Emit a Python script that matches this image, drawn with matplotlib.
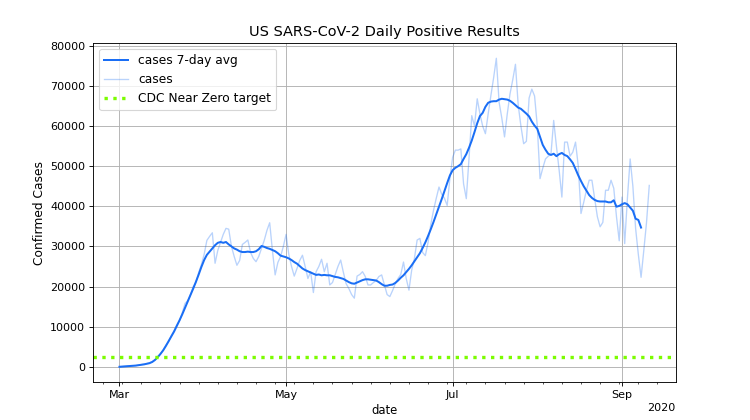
import matplotlib
matplotlib.use("Agg")
import matplotlib.dates as mdates
import matplotlib.pyplot as plt
import numpy as np
import pandas as pd

# daily values, starting 2020-03-01
START = "2020-03-01"

cases_avg = [
    0, 50, 100, 150, 200, 250, 300, 400, 500, 600, 750,
    900, 1200, 1700, 2400, 3200, 4100, 5200, 6400, 7600, 8800,
    10200, 11600, 13100, 14700, 16300, 17900, 19500, 21200, 23000, 24900,
    26600, 27900, 28700, 29500, 30300, 30900, 31100, 30900, 31100, 30500,
    30000, 29500, 29200, 28800, 28600, 28600, 28700, 28600, 28600, 28800,
    29300, 30100, 29900, 29600, 29400, 29100, 28800, 28300, 27700, 27500,
    27300, 27000, 26600, 26100, 25700, 25100, 24500, 24100, 23800, 23500,
    23200, 22900, 23000, 22800, 22900, 22800, 22800, 22600, 22400, 22300,
    22100, 21900, 21500, 21100, 20800, 20700, 21000, 21300, 21600, 21800,
    21800, 21700, 21600, 21500, 21100, 20600, 20200, 20200, 20400, 20500,
    20900, 21500, 22200, 22800, 23600, 24400, 25300, 26300, 27300, 28300,
    29600, 31000, 32600, 34300, 36100, 38000, 39900, 41800, 43800, 45800,
    47700, 49000, 49600, 50000, 50500, 51800, 53000, 54600, 56400, 58500,
    60700, 62500, 63300, 64800, 65800, 66100, 66200, 66200, 66600, 66800,
    66700, 66600, 66300, 65800, 65200, 64600, 64300, 63700, 63100, 62400,
    61100, 60100, 59300, 57300, 55300, 54100, 53100, 52800, 53100, 52500,
    53000, 53300, 52800, 52500, 51700, 50800, 49300, 47700, 46300, 45000,
    43900, 42800, 42100, 41600, 41300, 41200, 41200, 41200, 41000, 41000,
    41500, 39900, 40100, 40500, 40800, 40500, 39700, 38900, 36900, 36600, 34700,
]

cases = [
    0, 30, 80, 130, 200, 250, 300, 420, 550, 650, 800,
    1000, 1300, 1700, 2500, 3200, 4200, 5400, 6200, 7800, 9000,
    10500, 11500, 13500, 15800, 16500, 18000, 20000, 21000, 23500, 25500,
    28000, 31500, 32500, 33400, 25800, 29000, 31000, 33000, 34500, 34300,
    30000, 27500, 25300, 26500, 30500, 31000, 31600, 28500, 27000, 26200,
    27500, 29500, 31500, 34000, 35900, 29000, 22900, 26000, 27500, 30000,
    33000, 28000, 25000, 22600, 24500, 26500, 27800, 25000, 22000, 23700,
    18500, 23700, 25000, 26800, 23700, 25800, 20400, 21000, 23000, 25000,
    26600, 23500, 20700, 19500, 18000, 17100, 22600, 23000, 23700, 22500,
    20400, 20400, 21000, 21500, 22500, 22900, 20500, 18000, 17500, 19000,
    20700, 22000, 23000, 26100, 22000, 19100, 24100, 27000, 31600, 32000,
    28500, 27700, 31000, 35500, 39000, 42000, 44800, 43000, 42000, 40200,
    47000, 52200, 54000, 54000, 54300, 45600, 41900, 52000, 62600, 60000,
    66800, 63000, 60000, 58100, 63000, 67600, 72000, 76900, 66000, 62000,
    57300, 63000, 68000, 71500, 75400, 65300, 60000, 55600, 56200, 67000,
    69200, 67500, 60000, 46900, 49500, 51800, 52500, 53000, 61400, 55000,
    49000, 42300, 56000, 56000, 52500, 53500, 56000, 50000, 38200, 41000,
    44000, 46500, 46500, 42000, 37400, 34900, 36000, 44000, 44000, 46500,
    44500, 37400, 31400, 42300, 30700, 42000, 51800, 45000, 34500, 28000,
    22300, 29000, 36000, 45200,
]

CDC_TARGET = 2500

dates_raw = pd.date_range(START, periods=len(cases), freq="D")
dates_avg = pd.date_range(START, periods=len(cases_avg), freq="D")

BLUE = "#1a6ef5"

# 80 dpi so the text comes out at the reference's size
fig, ax = plt.subplots(figsize=(9.375, 5.25), dpi=80)
fig.subplots_adjust(left=0.124, right=0.901, bottom=0.09, top=0.898)

ax.plot(dates_avg, cases_avg, color=BLUE, lw=1.8, label="cases 7-day avg")
ax.plot(dates_raw, cases, color=BLUE, lw=1.2, alpha=0.3, label="cases")
ax.axhline(CDC_TARGET, color="#7cfc00", ls=":", lw=3, label="CDC Near Zero target")

locator = mdates.MonthLocator(bymonth=[3, 5, 7, 9])
ax.xaxis.set_major_locator(locator)
ax.xaxis.set_major_formatter(mdates.ConciseDateFormatter(locator))
ax.xaxis.set_minor_locator(mdates.WeekdayLocator(byweekday=mdates.MO))

ax.set_yticks(np.arange(0, 80001, 10000))
ax.grid(True)
ax.set_title("US SARS-CoV-2 Daily Positive Results", fontsize=13)
ax.set_xlabel("date", fontsize=10.5)
ax.set_ylabel("Confirmed Cases", fontsize=11)
ax.legend(loc="upper left", fontsize=11)

fig.savefig("out.png", dpi=80)
